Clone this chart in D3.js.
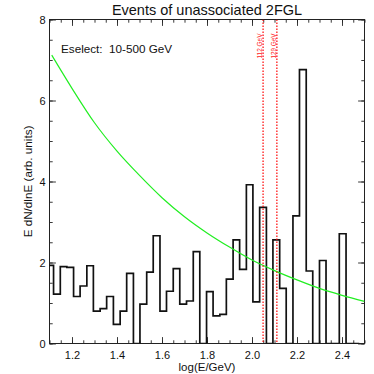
<!DOCTYPE html>
<html>
<head>
<meta charset="utf-8">
<script src="https://cdn.jsdelivr.net/npm/d3@7"></script>
<style>
  body { margin: 0; background: #fff; }
  svg { display: block; }
  text { font-family: "Liberation Sans", Arial, sans-serif; }
</style>
</head>
<body>
<svg id="chart" width="374" height="374"></svg>
<script>
// histogram bin edges in log10(E/GeV)
var binEdges = [1.089, 1.118, 1.148, 1.177, 1.207, 1.236, 1.266, 1.295, 1.325, 1.354,
  1.384, 1.414, 1.443, 1.473, 1.502, 1.532, 1.561, 1.591, 1.620, 1.650,
  1.679, 1.709, 1.739, 1.768, 1.798, 1.827, 1.857, 1.886, 1.916, 1.945,
  1.975, 2.004, 2.034, 2.064, 2.093, 2.123, 2.152, 2.182, 2.211, 2.241,
  2.270, 2.300, 2.329, 2.359, 2.388, 2.418, 2.448, 2.477];
// E dN/dlnE per bin
var binCounts = [1.93, 1.22, 1.90, 1.88, 1.16, 1.42, 1.92, 0.80, 0.86, 1.16,
  0.47, 0.80, 1.73, 0, 0.97, 1.76, 2.66, 0.80, 1.29, 1.85,
  0.97, 1.05, 2.27, 0, 1.28, 0.68, 0.72, 1.59, 2.56, 1.83,
  3.92, 1.03, 3.36, 0, 2.56, 1.36, 0, 3.15, 6.76, 1.79,
  0, 2.05, 0, 0, 2.71, 0, 0];
// green background curve
var bgX = [1.11, 1.2, 1.3, 1.4, 1.5, 1.6, 1.7, 1.8, 1.9, 2.0, 2.1, 2.2, 2.3, 2.4, 2.5];
var bgY = [7.12, 6.30, 5.45, 4.75, 4.15, 3.60, 3.13, 2.73, 2.38, 2.06, 1.80, 1.57, 1.36, 1.19, 1.04];
// marked energies
var markEnergies = [112, 129];
var markLabels = ["112 GeV", "129 GeV"];
var xTicks = [1.2, 1.4, 1.6, 1.8, 2.0, 2.2, 2.4];
var yTicks = [0, 2, 4, 6, 8];

var svg = d3.select("#chart");
var pLeft = 49.5, pRight = 364.5, pTop = 19.5, pBottom = 343.5;

var x = d3.scaleLinear().domain([1.1, 2.5]).range([pLeft, pRight]);
var y = d3.scaleLinear().domain([0, 8]).range([pBottom, pTop]);

svg.append("defs").append("clipPath").attr("id", "plotclip")
  .append("rect").attr("x", pLeft).attr("y", pTop)
  .attr("width", pRight - pLeft).attr("height", pBottom - pTop);

var xMinor = d3.range(1.1, 2.5001, 0.05);
var yMinor = d3.range(0, 8.001, 0.5);

function styleAxis(g) {
  g.select(".domain").remove();
  g.selectAll("line").attr("stroke", "#222").attr("stroke-width", 0.9);
  g.selectAll("text").attr("fill", "#111").style("font-size", "11px")
    .style("font-family", "'Liberation Sans', Arial, sans-serif");
}

// minor ticks on all four sides
svg.append("g").attr("transform", "translate(0," + pBottom + ")")
  .call(d3.axisBottom(x).tickValues(xMinor).tickSize(-3.2).tickFormat(""))
  .call(styleAxis);
svg.append("g").attr("transform", "translate(0," + pTop + ")")
  .call(d3.axisTop(x).tickValues(xMinor).tickSize(-3.2).tickFormat(""))
  .call(styleAxis);
svg.append("g").attr("transform", "translate(" + pLeft + ",0)")
  .call(d3.axisLeft(y).tickValues(yMinor).tickSize(-3.2).tickFormat(""))
  .call(styleAxis);
svg.append("g").attr("transform", "translate(" + pRight + ",0)")
  .call(d3.axisRight(y).tickValues(yMinor).tickSize(-3.2).tickFormat(""))
  .call(styleAxis);

// major ticks with labels
svg.append("g").attr("transform", "translate(0," + pBottom + ")")
  .call(d3.axisBottom(x).tickValues(xTicks).tickSize(-6.4).tickPadding(8).tickFormat(d3.format(".1f")))
  .call(styleAxis);
svg.append("g").attr("transform", "translate(0," + pTop + ")")
  .call(d3.axisTop(x).tickValues(xTicks).tickSize(-6.4).tickFormat(""))
  .call(styleAxis);
svg.append("g").attr("transform", "translate(" + pLeft + ",0)")
  .call(d3.axisLeft(y).tickValues(yTicks).tickSize(-6.4).tickPadding(4).tickFormat(d3.format("d")))
  .call(styleAxis);
svg.append("g").attr("transform", "translate(" + pRight + ",0)")
  .call(d3.axisRight(y).tickValues(yTicks).tickSize(-6.4).tickFormat(""))
  .call(styleAxis);

// frame
svg.append("rect").attr("x", pLeft).attr("y", pTop)
  .attr("width", pRight - pLeft).attr("height", pBottom - pTop)
  .attr("fill", "none").attr("stroke", "#222").attr("stroke-width", 1);

var plot = svg.append("g").attr("clip-path", "url(#plotclip)");

// histogram as a step line
var steps = binCounts.map(function(c, i) { return [binEdges[i], c]; });
steps.push([binEdges[binEdges.length - 1], binCounts[binCounts.length - 1]]);
plot.append("path")
  .attr("d", d3.line().x(function(d) { return x(d[0]); }).y(function(d) { return y(d[1]); })
    .curve(d3.curveStepAfter)(steps))
  .attr("fill", "none").attr("stroke", "#111").attr("stroke-width", 1.7);

// green curve
plot.append("path")
  .attr("d", d3.line().x(function(d, i) { return x(bgX[i]); }).y(function(d) { return y(d); })
    .curve(d3.curveMonotoneX)(bgY))
  .attr("fill", "none").attr("stroke", "#22ee22").attr("stroke-width", 1.2);

// dotted energy markers
markEnergies.forEach(function(e, i) {
  var lx = x(Math.log10(e));
  plot.append("line").attr("x1", lx).attr("x2", lx).attr("y1", pTop).attr("y2", pBottom)
    .attr("stroke", "#ff0000").attr("stroke-width", 1.2).attr("stroke-dasharray", "1.5,1.5");
  svg.append("text")
    .attr("transform", "translate(" + (lx - 1) + ",58.5) rotate(-90)")
    .attr("fill", "#ff1a1a").style("font-size", "7.8px")
    .attr("textLength", 25).attr("lengthAdjust", "spacingAndGlyphs")
    .text(markLabels[i]);
});

// texts
svg.append("text").attr("x", (pLeft + pRight) / 2).attr("y", 14.5)
  .attr("text-anchor", "middle").style("font-size", "14.5px").attr("fill", "#111")
  .text("Events of unassociated 2FGL");
svg.append("text").attr("x", 61).attr("y", 52.5)
  .style("font-size", "11.7px").attr("fill", "#111").attr("xml:space", "preserve")
  .text("Eselect:  10-500 GeV");
svg.append("text").attr("x", (pLeft + pRight) / 2).attr("y", 371)
  .attr("text-anchor", "middle").style("font-size", "11.5px").attr("fill", "#111")
  .text("log(E/GeV)");
svg.append("text")
  .attr("transform", "translate(31.5," + ((pTop + pBottom) / 2) + ") rotate(-90)")
  .attr("text-anchor", "middle").style("font-size", "11.7px").attr("fill", "#111")
  .text("E dN/dlnE (arb. units)");
</script>
</body>
</html>
